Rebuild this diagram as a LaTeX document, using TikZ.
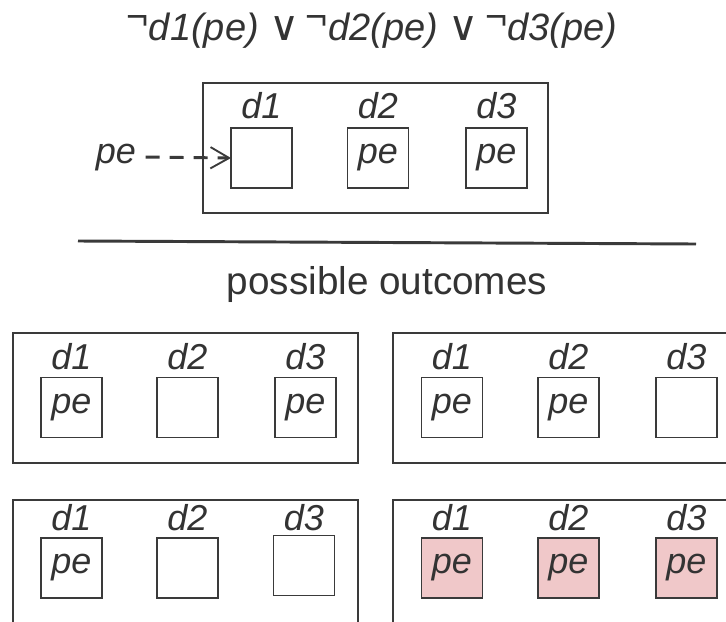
\documentclass[tikz,border=0pt]{standalone}
\usepackage{fontspec}
\setmainfont{Liberation Sans}
\newfontfamily\symfont{DejaVu Sans}
\usetikzlibrary{arrows.meta}
\definecolor{ink}{HTML}{333333}
\definecolor{edge}{HTML}{3A3A3A}
\definecolor{pinkfill}{RGB}{240,200,201}
\newcommand{\negsym}{\raisebox{0.28em}{¬}}
\newcommand{\orsym}{{\symfont\fontsize{31}{32}\selectfont ∨}}
\begin{document}
\begin{tikzpicture}[x=0.75pt,y=-0.75pt,
  outer/.style={draw=edge,line width=1.1pt,inner sep=0,outer sep=0,minimum width=258.75pt,minimum height=97.5pt},
  cell/.style={draw=edge,line width=1.1pt,minimum width=45.75pt,minimum height=45pt,inner sep=0,outer sep=0,
    text=ink,font=\fontsize{27}{30}\selectfont\itshape},
  pinkcell/.style={cell,fill=pinkfill},
  lab/.style={font=\fontsize{27}{30}\selectfont\itshape,text=ink,anchor=base,inner sep=0},
  conn/.style={draw=edge,line width=2.2pt,dash pattern=on 10.5pt off 7.5pt,
    -{Straight Barb[length=14pt,width=16pt,line width=1.4pt]}},
  rulestyle/.style={draw=edge,line width=2.2pt}]
\useasboundingbox (0,0) rectangle (726,622);
\clip (0,0) rectangle (726,622);
\fill[white] (0,0) rectangle (726,622);

% title
\node[anchor=base,inner sep=0,text=ink,font=\fontsize{28.5}{32}\selectfont] (title) at (372,40)
  {\negsym\textit{d1(pe)} \orsym\,\negsym\textit{d2(pe)} \orsym\,\negsym\textit{d3(pe)}};

% top box
\node[outer] (top) at (375.5,148) {};
\node[cell] (t1) at (261.5,158) {};
\node[cell] (t2) at (378,158) {pe};
\node[cell] (t3) at (496.5,158) {pe};
\node[lab] (t1l) at (261.5,118) {d1};
\node[lab] (t2l) at (378,118) {d2};
\node[lab] (t3l) at (496.5,118) {d3};
\node[lab,inner xsep=7pt] (pe0) at (116,163) {pe};
\draw[conn] (pe0.east) -- (t1.west);

% separator
\coordinate (rl) at (78,241);
\coordinate (rr) at (696,244);
\draw[rulestyle] (rl) -- (rr);

\node[anchor=base,inner sep=0,text=ink,font=\fontsize{29}{32}\selectfont] (po) at (387,294) {possible outcomes};

% bottom-left upper
\node[outer] (bl1) at (185.5,398) {};
\node[cell] (a1) at (71.5,407.5) {pe};
\node[cell] (a2) at (187.5,407.5) {};
\node[cell] (a3) at (305.5,407.5) {pe};
\node[lab] (a1l) at (71.5,369) {d1};
\node[lab] (a2l) at (187.5,369) {d2};
\node[lab] (a3l) at (305.5,369) {d3};

% bottom-right upper
\node[outer] (br1) at (565.5,398) {};
\node[cell] (b1) at (452,407.5) {pe};
\node[cell] (b2) at (568.5,407.5) {pe};
\node[cell] (b3) at (686.5,407.5) {};
\node[lab] (b1l) at (452,369) {d1};
\node[lab] (b2l) at (568.5,369) {d2};
\node[lab] (b3l) at (686.5,369) {d3};

% bottom-left lower
\node[outer] (bl2) at (185.5,565) {};
\node[cell] (c1) at (71.5,568) {pe};
\node[cell] (c2) at (187.5,568) {};
\node[cell] (c3) at (304,565.5) {};
\node[lab] (c1l) at (71.5,530) {d1};
\node[lab] (c2l) at (187.5,530) {d2};
\node[lab] (c3l) at (304,530) {d3};

% bottom-right lower
\node[outer] (br2) at (565.5,565) {};
\node[pinkcell] (e1) at (452,568) {pe};
\node[pinkcell] (e2) at (568.5,568) {pe};
\node[pinkcell] (e3) at (686.5,568) {pe};
\node[lab] (e1l) at (452,530) {d1};
\node[lab] (e2l) at (568.5,530) {d2};
\node[lab] (e3l) at (686.5,530) {d3};
\end{tikzpicture}
\end{document}
